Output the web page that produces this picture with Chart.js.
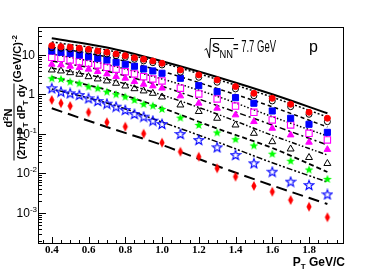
<!DOCTYPE html>
<html>
<head>
<meta charset="utf-8">
<script src="https://cdn.jsdelivr.net/npm/chart.js@4.4.1/dist/chart.umd.min.js"></script>
<style>
  body { margin: 0; background: #fff; }
  #chart { display: block; }
</style>
</head>
<body>
<canvas id="chart" width="382" height="273"></canvas>
<script>
// pT bins (GeV/c)
const ptBins = [0.4, 0.45, 0.5, 0.55, 0.6, 0.65, 0.7, 0.75, 0.8, 0.85, 0.9, 0.95, 1.0,
  1.1, 1.2, 1.3, 1.4, 1.5, 1.6, 1.7, 1.8, 1.9];
const ptDiamond = [0.4, 0.45, 0.5, 0.6, 0.7, 0.8, 0.9, 1.0, 1.1, 1.2, 1.3, 1.4, 1.5, 1.6, 1.7, 1.8, 1.9];

// spectra, top to bottom
const redCircle = [17.2, 16.2, 15.7, 14.8, 13.9, 12.6, 11.7, 10.6, 9.6, 8.5, 7.8, 7.05, 6.17,
  4.17, 3.12, 2.33, 1.58, 1.07, 0.80, 0.565, 0.354, 0.250];
const openCircle = [15.3, 14.8, 14.2, 13.4, 12.6, 11.4, 10.6, 9.6, 8.74, 7.78, 7.05, 6.38, 5.58,
  3.65, 2.72, 2.04, 1.38, 0.93, 0.685, 0.491, 0.315, 0.205];
const blueSquare = [12.6, 11.7, 11.0, 10.0, 9.06, 8.25, 7.47, 6.53, 5.82, 5.18, 4.42, 3.94, 3.44,
  2.57, 1.67, 1.18, 0.83, 0.60, 0.382, 0.250, 0.176, 0.110];
const magentaOpenSquare = [8.74, 8.25, 7.47, 6.77, 6.17, 5.58, 4.88, 4.35, 3.78, 3.30, 2.82, 2.47, 2.20,
  1.44, 1.03, 0.77, 0.51, 0.354, 0.226, 0.169, 0.104, 0.0705];
const magentaTriangle = [5.82, 5.58, 5.18, 4.77, 4.35, 3.78, 3.30, 2.82, 2.57, 2.11, 1.81, 1.64, 1.44,
  0.916, 0.60, 0.447, 0.303, 0.205, 0.139, 0.0943, 0.0617, 0.0405];
const openTriangle = [4.17, 3.94, 3.56, 3.25, 2.82, 2.47, 2.20, 1.92, 1.64, 1.40, 1.23, 1.07, 0.864,
  0.542, 0.371, 0.250, 0.169, 0.104, 0.0638, 0.0417, 0.0254, 0.0179];
const greenStar = [2.57, 2.47, 2.11, 1.92, 1.58, 1.44, 1.18, 1.01, 0.88, 0.726, 0.57, 0.52, 0.43,
  0.259, 0.169, 0.109, 0.0738, 0.0512, 0.0317, 0.0210, 0.0126, 0.00726];
const blueOpenStar = [1.44, 1.18, 1.07, 0.971, 0.80, 0.685, 0.585, 0.491, 0.405, 0.321, 0.274, 0.217, 0.179,
  0.100, 0.0705, 0.0461, 0.0294, 0.0181, 0.0111, 0.0062, 0.00511, 0.00297];
const redDiamond = [0.726, 0.60, 0.512, 0.354, 0.198, 0.153, 0.102, 0.0602, 0.0356, 0.0266, 0.0135,
  0.0083, 0.00483, 0.00346, 0.00213, 0.00144, 0.00078];

// fit curves
const fitPt = [0.4, 0.7, 1.0, 1.3, 1.6, 1.9];
const fitRedCircle = [26.5, 15.4, 6.93, 2.77, 1.01, 0.334];
const fitOpenCircle = [21.3, 13.3, 6.27, 2.41, 0.854, 0.269];
const fitBlueSquare = [15.9, 8.90, 3.87, 1.41, 0.488, 0.150];
const fitMagentaOpenSquare = [10.6, 5.71, 2.47, 0.900, 0.274, 0.089];
const fitMagentaTriangle = [7.05, 3.87, 1.61, 0.524, 0.169, 0.0527];
const fitOpenTriangle = [4.69, 2.47, 0.971, 0.319, 0.0922, 0.0294];
const fitGreenStar = [2.77, 1.30, 0.455, 0.137, 0.0442, 0.0109];
const fitBlueOpenStar = [1.38, 0.609, 0.201, 0.0631, 0.0187, 0.00609];
const fitRedDiamond = [0.447, 0.150, 0.0527, 0.0155, 0.00497, 0.00169];

// axes
const xMajorTicks = [0.4, 0.6, 0.8, 1.0, 1.2, 1.4, 1.6, 1.8];
const xTickLabels = ['0.4', '0.6', '0.8', '1.0', '1.2', '1.4', '1.6', '1.8'];
const xMinorTicks = [0.35, 0.45, 0.5, 0.55, 0.65, 0.7, 0.75, 0.85, 0.9, 0.95, 1.05, 1.1, 1.15,
  1.25, 1.3, 1.35, 1.45, 1.5, 1.55, 1.65, 1.7, 1.75, 1.85, 1.9, 1.95];
const yMajorTicks = [0.001, 0.01, 0.1, 1, 10];
const yTickLabels = [['10', '-3'], ['10', '-2'], ['10', '-1'], ['1', ''], ['10', '']];
const yMinorTicks = [0.0001, 0.001, 0.01, 0.1, 1, 10]
  .flatMap(d => [2, 3, 4, 5, 6, 7, 8, 9].map(m => m * d));

const pts = (xs, ys) => xs.map((x, i) => ({ x, y: ys[i] }));

function starMarker(color, filled, outer) {
  const c = document.createElement('canvas');
  c.width = 12; c.height = 12;
  const g = c.getContext('2d');
  g.beginPath();
  for (let i = 0; i < 10; i++) {
    const r = i % 2 ? outer * 0.42 : outer;
    const a = -Math.PI / 2 + i * Math.PI / 5;
    g.lineTo(6 + r * Math.cos(a), 6.4 + r * Math.sin(a));
  }
  g.closePath();
  if (filled) { g.fillStyle = color; g.fill(); } else { g.strokeStyle = color; g.lineWidth = 1.1; g.stroke(); }
  return c;
}

function diamondMarker(color) {
  const c = document.createElement('canvas');
  c.width = 8; c.height = 12;
  const g = c.getContext('2d');
  g.beginPath();
  g.moveTo(4, 1); g.lineTo(6.6, 6); g.lineTo(4, 11); g.lineTo(1.4, 6);
  g.closePath();
  g.fillStyle = color; g.fill();
  return c;
}

const markers = [
  { data: pts(ptBins, redCircle), pointStyle: 'circle', pointRadius: 3, backgroundColor: '#ff0000', borderColor: '#ff0000' },
  { data: pts(ptBins, openCircle), pointStyle: 'circle', pointRadius: 3, backgroundColor: 'rgba(0,0,0,0)', borderColor: '#000', pointBorderWidth: 1 },
  { data: pts(ptBins, blueSquare), pointStyle: 'rect', pointRadius: 4.3, backgroundColor: '#0000ff', borderColor: '#0000ff' },
  { data: pts(ptBins, magentaOpenSquare), pointStyle: 'rect', pointRadius: 4.5, backgroundColor: 'rgba(0,0,0,0)', borderColor: '#ff00ff', pointBorderWidth: 1.1 },
  { data: pts(ptBins, magentaTriangle), pointStyle: 'triangle', pointRadius: 3.8, backgroundColor: '#ff00ff', borderColor: '#ff00ff' },
  { data: pts(ptBins, openTriangle), pointStyle: 'triangle', pointRadius: 4, backgroundColor: 'rgba(0,0,0,0)', borderColor: '#000', pointBorderWidth: 1 },
  { data: pts(ptBins, greenStar), pointStyle: starMarker('#00ff00', true, 4.6), pointRadius: 4 },
  { data: pts(ptBins, blueOpenStar), pointStyle: starMarker('#0000ff', false, 5), pointRadius: 4 },
  { data: pts(ptDiamond, redDiamond), pointStyle: diamondMarker('#ff0000'), pointRadius: 4 }
].map(d => Object.assign({ showLine: false, order: 0, pointBorderWidth: 1 }, d));

const fits = [
  [fitRedCircle, [], 2],
  [fitOpenCircle, [2, 2], 1.5],
  [fitBlueSquare, [4, 3], 1.5],
  [fitMagentaOpenSquare, [1.5, 2], 1.5],
  [fitMagentaTriangle, [6, 3, 2, 3], 1.5],
  [fitOpenTriangle, [5, 2, 1.5, 2, 1.5, 2], 1.5],
  [fitGreenStar, [5, 3], 1.8],
  [fitBlueOpenStar, [2, 2, 2, 2, 6, 2], 1.5],
  [fitRedDiamond, [11, 6], 2]
].map(([ys, dash, w]) => ({
  data: pts(fitPt, ys),
  showLine: true,
  pointRadius: 0,
  borderColor: '#000',
  borderWidth: w,
  borderDash: dash,
  cubicInterpolationMode: 'monotone',
  order: 1
}));

function drawRuns(ctx, runs, x, y) {
  let cx = x;
  runs.forEach(([t, font, dy]) => {
    ctx.font = font;
    ctx.fillText(t, cx, y + dy);
    cx += ctx.measureText(t).width;
  });
  return cx - x;
}
function runsWidth(ctx, runs) {
  return runs.reduce((w, [t, font]) => { ctx.font = font; return w + ctx.measureText(t).width; }, 0);
}

const B11 = 'bold 11px "Liberation Sans"';
const B12 = 'bold 12px "Liberation Sans"';
const B8 = 'bold 8px "Liberation Sans"';

const rootFrame = {
  id: 'rootFrame',
  afterDraw(chart) {
    const { ctx, chartArea: a, scales: { x, y } } = chart;
    ctx.save();
    ctx.strokeStyle = '#000';
    ctx.fillStyle = '#000';
    ctx.lineWidth = 1;
    ctx.strokeRect(a.left + 0.5, a.top + 0.5, a.right - a.left, a.bottom - a.top);

    ctx.beginPath();
    xMinorTicks.forEach(v => {
      const px = Math.round(x.getPixelForValue(v)) + 0.5;
      ctx.moveTo(px, a.bottom); ctx.lineTo(px, a.bottom - 3);
    });
    xMajorTicks.forEach(v => {
      const px = Math.round(x.getPixelForValue(v)) + 0.5;
      ctx.moveTo(px, a.bottom); ctx.lineTo(px, a.bottom - 6);
    });
    yMinorTicks.forEach(v => {
      const py = y.getPixelForValue(v);
      if (py < a.top || py > a.bottom) return;
      const p = Math.round(py) + 0.5;
      ctx.moveTo(a.left, p); ctx.lineTo(a.left + 4, p);
    });
    yMajorTicks.forEach(v => {
      const p = Math.round(y.getPixelForValue(v)) + 0.5;
      ctx.moveTo(a.left, p); ctx.lineTo(a.left + 8, p);
    });
    ctx.stroke();

    // x tick labels
    ctx.font = 'bold 11px "Liberation Serif"';
    ctx.textAlign = 'center';
    ctx.textBaseline = 'top';
    xMajorTicks.forEach((v, i) => ctx.fillText(xTickLabels[i], x.getPixelForValue(v), a.bottom + 2));

    // y tick labels
    ctx.textBaseline = 'alphabetic';
    ctx.textAlign = 'right';
    yMajorTicks.forEach((v, i) => {
      const py = y.getPixelForValue(v);
      const [base, sup] = yTickLabels[i];
      let right = a.left - 1;
      if (sup) {
        ctx.font = '8px "Liberation Sans"';
        ctx.fillText(sup, right, py - 1);
        right -= ctx.measureText(sup).width;
      } else {
        right -= 2;
      }
      ctx.font = '12px "Liberation Sans"';
      ctx.fillText(base, right, py + 4);
    });

    // x title
    ctx.textAlign = 'left';
    const xt = [['P', B12, 0], ['T', B8, 3], [' GeV/C', B12, 0]];
    drawRuns(ctx, xt, a.right - runsWidth(ctx, xt) + 2, 266);

    // y title, rotated
    ctx.save();
    ctx.rotate(-Math.PI / 2);
    const den = [['(2\u03c0) P', B11, 0], ['T', B8, 3], [' dP', B11, 0], ['T', B8, 3], [' dy', B11, 0]];
    const num = [['d', B11, 0], ['2', B8, -4], ['N', B11, 0]];
    const dw = runsWidth(ctx, den);
    const cy = 122;
    drawRuns(ctx, den, -cy - dw / 2, 25);
    const nw = runsWidth(ctx, num);
    drawRuns(ctx, num, -cy - nw / 2 + 4, 12);
    ctx.fillRect(-cy - dw / 2 - 1, 13.5, dw + 2, 1);
    drawRuns(ctx, [['(GeV/C)', B11, 0], ['-2', B8, -4]], -cy + dw / 2 + 2, 21);
    ctx.restore();

    // annotation
    ctx.lineWidth = 1;
    ctx.beginPath();
    ctx.moveTo(204.5, 50); ctx.lineTo(206.5, 48.5); ctx.lineTo(209.5, 58); ctx.lineTo(210.5, 38.5); ctx.lineTo(234, 38.5);
    ctx.stroke();
    ctx.font = '16px "Liberation Sans"';
    ctx.fillText('s', 212, 52);
    ctx.font = '10px "Liberation Sans"';
    ctx.fillText('NN', 219.5, 57.5, 13.5);
    ctx.font = '16px "Liberation Sans"';
    ctx.fillText('= 7.7 GeV', 233, 52, 43);
    ctx.font = '16px "Liberation Sans"';
    ctx.fillText('p', 309, 52);
    ctx.restore();
  }
};

new Chart(document.getElementById('chart'), {
  type: 'scatter',
  data: { datasets: [...markers, ...fits] },
  options: {
    responsive: false,
    animation: false,
    devicePixelRatio: 1,
    layout: { padding: { left: 38, right: 39, top: 27, bottom: 30 } },
    plugins: { legend: { display: false }, tooltip: { enabled: false } },
    scales: {
      x: { type: 'linear', min: 0.325, max: 1.985, display: false },
      y: { type: 'logarithmic', min: 1.74e-4, max: 51, display: false }
    }
  },
  plugins: [rootFrame]
});
</script>
</body>
</html>
